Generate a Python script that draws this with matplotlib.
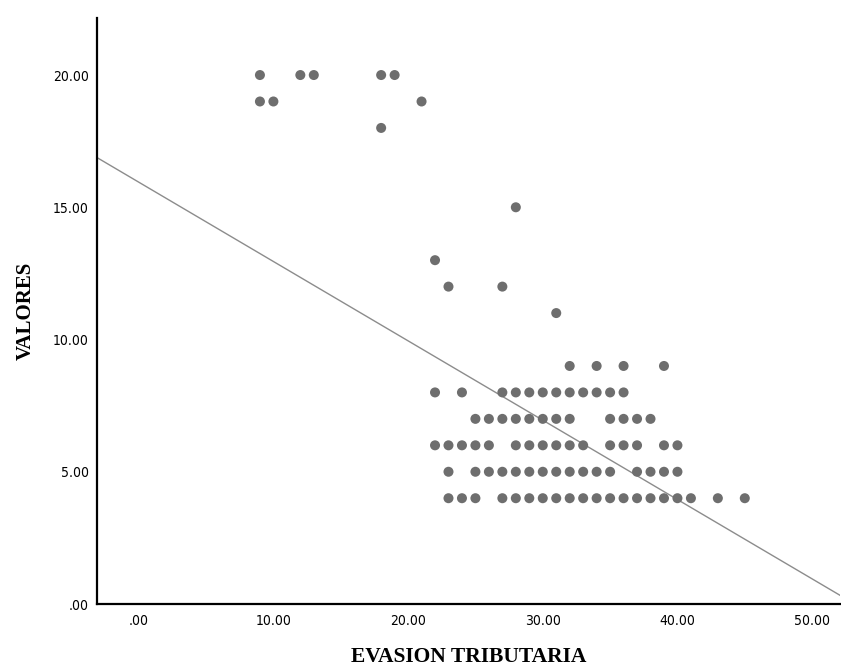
import matplotlib.pyplot as plt
import numpy as np

# puntos por fila (valor de VALORES -> valores de EVASION TRIBUTARIA)
fila_20 = [9, 12, 13, 18, 19]
fila_19 = [9, 10, 21]
fila_18 = [18]
fila_15 = [28]
fila_13 = [22]
fila_12 = [23, 27]
fila_11 = [31]
fila_9 = [32, 34, 36, 39]
fila_8 = [22, 24, 27, 28, 29, 30, 31, 32, 33, 34, 35, 36]
fila_7 = [25, 26, 27, 28, 29, 30, 31, 32, 35, 36, 37, 38]
fila_6 = [22, 23, 24, 25, 26, 28, 29, 30, 31, 32, 33, 35, 36, 37, 39, 40]
fila_5 = [23, 25, 26, 27, 28, 29, 30, 31, 32, 33, 34, 35, 37, 38, 39, 40]
fila_4 = [23, 24, 25, 27, 28, 29, 30, 31, 32, 33, 34, 35, 36, 37, 38, 39, 40, 41, 43, 45]

filas = {20: fila_20, 19: fila_19, 18: fila_18, 15: fila_15, 13: fila_13,
         12: fila_12, 11: fila_11, 9: fila_9, 8: fila_8, 7: fila_7,
         6: fila_6, 5: fila_5, 4: fila_4}

# recta de ajuste (hay puntos repetidos que no se ven)
pendiente = -0.300
intercepto = 15.95

evasion = []
valores = []
for v, xs in filas.items():
    for x in xs:
        evasion.append(x)
        valores.append(v)

ticks_x = [0, 10, 20, 30, 40, 50]
ticks_y = [0, 5, 10, 15, 20]

fig = plt.figure(figsize=(8.41, 6.68), dpi=100)
ax = fig.add_axes([0.1153, 0.0958, 0.884, 0.877])

ax.scatter(evasion, valores, s=52, color='#6e6e6e', edgecolors='none', zorder=3)

xl = np.array([-3.1, 52.1])
ax.plot(xl, pendiente * xl + intercepto, color='#8c8c8c', lw=1.0, zorder=2)

ax.set_xlim(-3.1, 52.1)
ax.set_ylim(0, 22.15)
ax.set_xticks(ticks_x)
ax.set_yticks(ticks_y)
fmt = lambda t: '.00' if t == 0 else '%.2f' % t
ax.set_xticklabels([fmt(t) for t in ticks_x])
ax.set_yticklabels([fmt(t) for t in ticks_y])
ax.tick_params(axis='x', length=0, pad=7)
ax.tick_params(axis='y', length=0, pad=6)
for lab in ax.get_xticklabels() + ax.get_yticklabels():
    lab.set_family('DejaVu Sans')
    lab.set_fontstretch('condensed')
    lab.set_fontsize(10)

for s in ['top', 'right']:
    ax.spines[s].set_visible(False)
for s in ['left', 'bottom']:
    ax.spines[s].set_linewidth(1.6)
    ax.spines[s].set_color('black')

ax.set_xlabel('EVASION TRIBUTARIA', family='Liberation Serif', fontsize=15.5,
              fontweight='bold', labelpad=14)
ax.set_ylabel('VALORES', family='Liberation Serif', fontsize=15,
              fontweight='bold', labelpad=12)

fig.savefig('out.png', dpi=100)
